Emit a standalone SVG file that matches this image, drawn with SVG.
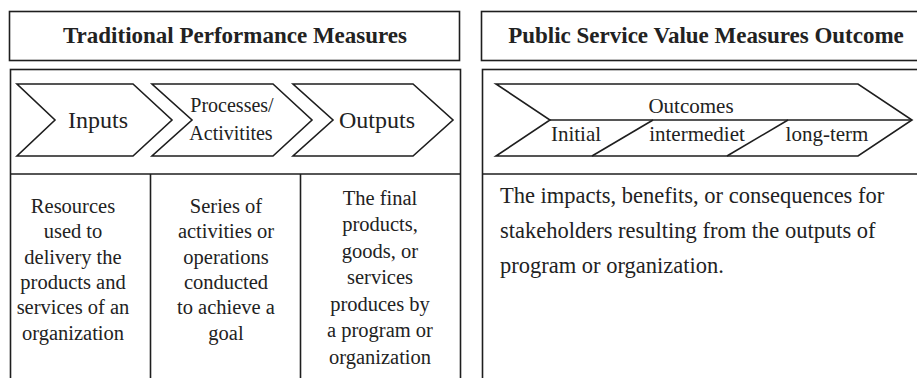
<svg xmlns="http://www.w3.org/2000/svg" width="917" height="378" viewBox="0 0 917 378">
<style>
.box{fill:#fff;stroke:#1e1e1e;stroke-width:1.6}
.ln{fill:none;stroke:#1e1e1e;stroke-width:1.6}
.chev{fill:#fff;stroke:#1e1e1e;stroke-width:1.6;stroke-linejoin:miter}
text{fill:#222}
.title{font-size:23px;font-weight:bold;text-anchor:middle}
.lab{font-size:24px;text-anchor:middle}
.lab2{font-size:20px;text-anchor:middle}
.sub{font-size:21px;text-anchor:middle}
.body{font-size:20.5px;text-anchor:middle}
.para{font-size:22.5px}
</style>
<rect width="917" height="378" fill="#fff"/>
<g font-family="Liberation Serif, Times New Roman, serif">
<g id="left-title">
<rect class="box" x="9.5" y="11.5" width="450" height="49"/>
<text class="title" x="235" y="43">Traditional Performance Measures</text>
</g>
<g id="left-panel">
<rect class="box" x="10.5" y="69.5" width="450" height="330"/>
<line class="ln" x1="10" y1="174" x2="460" y2="174"/>
<line class="ln" x1="150.5" y1="174" x2="150.5" y2="380"/>
<line class="ln" x1="300.5" y1="174" x2="300.5" y2="380"/>
</g>
<g id="inputs">
<path class="chev" d="M17,84 L133,84 L172,120 L133,156 L17,156 L55,120 Z"/>
<text class="lab" x="98" y="128">Inputs</text>
</g>
<g id="processes">
<path class="chev" d="M152,84 L273,84 L312,120 L273,156 L152,156 L192,120 Z"/>
<text class="lab2" x="232" y="112">Processes/</text>
<text class="lab2" x="231" y="140">Activitites</text>
</g>
<g id="outputs">
<path class="chev" d="M293,84 L413,84 L453,120 L413,156 L293,156 L333,120 Z"/>
<text class="lab" x="377" y="128">Outputs</text>
</g>
<g id="inputs-desc">
<text class="body" x="73" y="213">Resources</text>
<text class="body" x="73" y="238">used to</text>
<text class="body" x="73" y="264">delivery the</text>
<text class="body" x="73" y="289">products and</text>
<text class="body" x="73" y="314">services of an</text>
<text class="body" x="73" y="340">organization</text>
</g>
<g id="processes-desc">
<text class="body" x="226" y="213">Series of</text>
<text class="body" x="226" y="238">activities or</text>
<text class="body" x="226" y="264">operations</text>
<text class="body" x="226" y="289">conducted</text>
<text class="body" x="226" y="314">to achieve a</text>
<text class="body" x="226" y="340">goal</text>
</g>
<g id="outputs-desc">
<text class="body" x="380" y="205">The final</text>
<text class="body" x="380" y="231">products,</text>
<text class="body" x="380" y="258">goods, or</text>
<text class="body" x="380" y="284">services</text>
<text class="body" x="380" y="311">produces by</text>
<text class="body" x="380" y="337">a program or</text>
<text class="body" x="380" y="364">organization</text>
</g>
<g id="right-title">
<rect class="box" x="481.5" y="11.5" width="450" height="49"/>
<text class="title" x="706" y="43">Public Service Value Measures Outcome</text>
</g>
<g id="right-panel">
<rect class="box" x="482.5" y="69.5" width="450" height="330"/>
<line class="ln" x1="482" y1="174" x2="920" y2="174"/>
</g>
<g id="outcomes">
<path class="chev" d="M496,84 L858,84 L912,120 L858,156 L496,156 L550,120 Z"/>
<line class="ln" x1="550" y1="120" x2="912" y2="120"/>
<line class="ln" x1="592" y1="156" x2="653" y2="120"/>
<line class="ln" x1="727" y1="156" x2="788" y2="120"/>
<text class="sub" x="691" y="113">Outcomes</text>
<text class="sub" x="576" y="141">Initial</text>
<text class="sub" x="697" y="141">intermediet</text>
<text class="sub" x="827" y="141">long-term</text>
</g>
<g id="outcomes-desc">
<text class="para" x="500" y="203">The impacts, benefits, or consequences for</text>
<text class="para" x="500" y="238">stakeholders resulting from the outputs of</text>
<text class="para" x="500" y="273">program or organization.</text>
</g>
</g>
</svg>
